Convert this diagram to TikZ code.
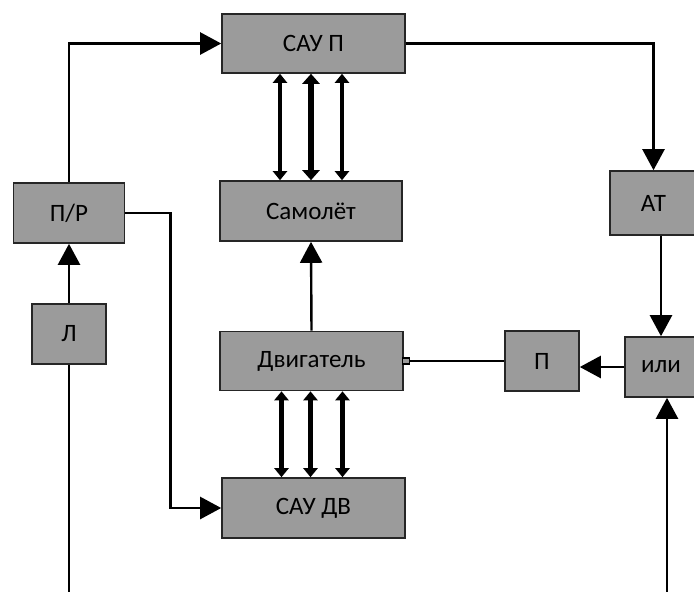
\documentclass[tikz,border=0pt]{standalone}
\usepackage{fontspec}
\setmainfont{Carlito}
\usetikzlibrary{arrows.meta}

\begin{document}
\begin{tikzpicture}[x=1pt,y=-1pt,
  blk/.style={draw=black!85,line width=1.6pt,fill=gr,inner sep=0pt,font=\fontsize{25}{29}\selectfont},
  ln/.style={line width=2.4pt},
  arr/.style={ln,-{Triangle[length=21pt,width=22pt]}},
  dbl/.style={line width=4.3pt,{Triangle[length=9pt,width=14pt]}-{Triangle[length=9pt,width=14pt]}},
  dblb/.style={line width=5.8pt,{Triangle[length=10pt,width=17pt]}-{Triangle[length=10pt,width=17pt]}}]
\definecolor{gr}{RGB}{155,155,155}
\useasboundingbox (0,0) rectangle (694,592);
\node[blk,minimum width=183,minimum height=59] (sauP) at (313.5,43.5) {САУ П};
\node[blk,minimum width=182,minimum height=60] (sam) at (311,211) {Самолёт};
\node[blk,minimum width=183,minimum height=59] (dv) at (311.5,361) {Двигатель};
\node[blk,minimum width=183,minimum height=60] (sauDV) at (313.5,508) {САУ ДВ};
\node[blk,minimum width=111,minimum height=60] (PR) at (69,213) {П/Р};
\node[blk,minimum width=74,minimum height=60] (L) at (69,334) {Л};
\node[blk,minimum width=87,minimum height=64] (AT) at (653.5,203) {АТ};
\node[blk,minimum width=72,minimum height=60] (ili) at (661,367) {или};
\node[blk,minimum width=74,minimum height=60] (P) at (542,361) {П};
\node[draw,line width=1.1pt,fill=gr,minimum width=7pt,minimum height=6pt,inner sep=0pt] (sq) at ([xshift=2]dv.east) {};
\coordinate (bl) at (69,592); \coordinate (br) at (667,592);
% main connectors
\draw[arr] (PR.north) |- (sauP.west);
\draw[arr] (sauP.east) -| (AT.north);
\draw[arr] (AT.south -| ili.north) -- (ili.north);
\draw[arr] (ili.west) -- (ili.west -| P.east);
\draw[ln] (P.west) -- (sq.east);
\draw[arr] (dv.north) -- (sam.south);
\draw[arr] (L.north) -- (PR.south);
\draw[arr] (PR.east) -- ++(45,0) |- (sauDV.west);
\draw[ln] (L.south) -- (bl);
\draw[arr] (br) -- (br |- ili.south);
% double arrows
\draw[dbl] ([xshift=-31]sam.north) -- ([xshift=-31]sam.north |- sauP.south); \draw[dblb] (sam.north) -- (sam.north |- sauP.south); \draw[dbl] ([xshift=31]sam.north) -- ([xshift=31]sam.north |- sauP.south);
\draw[dbl] ([xshift=-30]dv.south) -- ([xshift=-30]dv.south |- sauDV.north); \draw[dbl] ([xshift=-1]dv.south) -- ([xshift=-1]dv.south |- sauDV.north); \draw[dbl] ([xshift=31]dv.south) -- ([xshift=31]dv.south |- sauDV.north);
\end{tikzpicture}
\end{document}
